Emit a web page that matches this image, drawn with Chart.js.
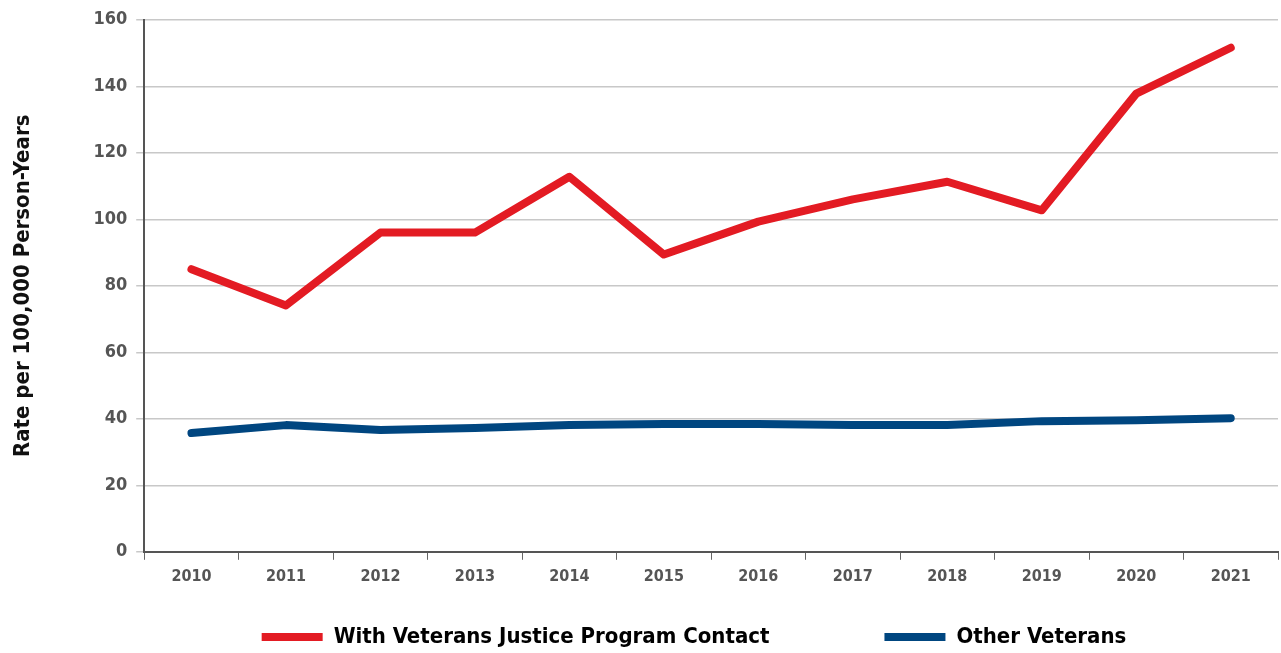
<!DOCTYPE html>
<html>
<head>
<meta charset="utf-8">
<script src="https://cdn.jsdelivr.net/npm/chart.js@4"></script>
<style>
html,body{margin:0;padding:0;background:#fff;}
#wrap{width:1281px;height:653px;}
</style>
</head>
<body>
<div id="wrap"><canvas id="rateChart"></canvas></div>
<script>
// Rate per 100,000 person-years, by year

const years = ["2010","2011","2012","2013","2014","2015","2016","2017","2018","2019","2020","2021"];

const vjpContact = [85, 74.1, 96, 96, 112.8, 89.4, 99.3, 106, 111.3, 102.7, 137.8, 151.6];

const otherVeterans = [35.7, 38.1, 36.6, 37.2, 38.1, 38.4, 38.4, 38.1, 38.1, 39.3, 39.6, 40.2];

const yTicks = [0, 20, 40, 60, 80, 100, 120, 140, 160];

const FONT = "'Liberation Sans Narrow', 'DejaVu Sans Condensed', sans-serif";

// legend sits a bit right of centre and close under the axis labels
const legendPlace = {
id:"legendPlace",
afterLayout(chart){
const lg = chart.legend;
if(!lg) return;
const pad = lg.options.labels.padding;
lg.left += 50;
lg.right += 50;
lg.top = 626 - pad;
lg.bottom = chart.height;
}
};

new Chart(
document.getElementById("rateChart"),
{
type:"line",

data:{
labels:years,

datasets:[{
label:"With Veterans Justice Program Contact",
data:vjpContact,
borderColor:"#e31b23",
backgroundColor:"#e31b23",
borderWidth:8,
borderCapStyle:"round",
borderJoinStyle:"round",
pointRadius:0,
pointStyle:"line",
tension:0
},{
label:"Other Veterans",
data:otherVeterans,
borderColor:"#004680",
backgroundColor:"#004680",
borderWidth:8,
borderCapStyle:"round",
borderJoinStyle:"round",
pointRadius:0,
pointStyle:"line",
tension:0
}]
},

plugins:[legendPlace],

options:{
responsive:true,
maintainAspectRatio:false,
animation:false,
layout:{padding:{top:7,right:3,left:10,bottom:0}},
plugins:{
tooltip:{enabled:false},
legend:{
position:"bottom",
maxHeight:60,
labels:{
usePointStyle:true,
pointStyleWidth:61,
boxWidth:61,
boxHeight:8,
padding:115,
color:"#000",
font:{family:FONT,size:22,weight:"bold"}
}
}
},
scales:{
x:{
offset:true,
grid:{
offset:true,
drawOnChartArea:false,
drawTicks:true,
tickLength:8,
color:"#666"
},
border:{color:"#555",width:2},
ticks:{
color:"#555",
padding:7,
font:{family:FONT,size:16,weight:"bold"}
}
},
y:{
min:0,
max:160,
afterBuildTicks:(axis)=>{axis.ticks = yTicks.map(v=>({value:v}));},
grid:{
color:"#c8c8c8",
lineWidth:1.5,
tickLength:8
},
border:{color:"#555",width:2},
ticks:{
color:"#555",
padding:9,
font:{family:FONT,size:18,weight:"bold"}
},
title:{
display:true,
text:"Rate per 100,000 Person-Years",
color:"#111",
padding:{top:0,bottom:48},
font:{family:FONT,size:22,weight:"bold"}
}
}
}
}
}
);
</script>
</body>
</html>
